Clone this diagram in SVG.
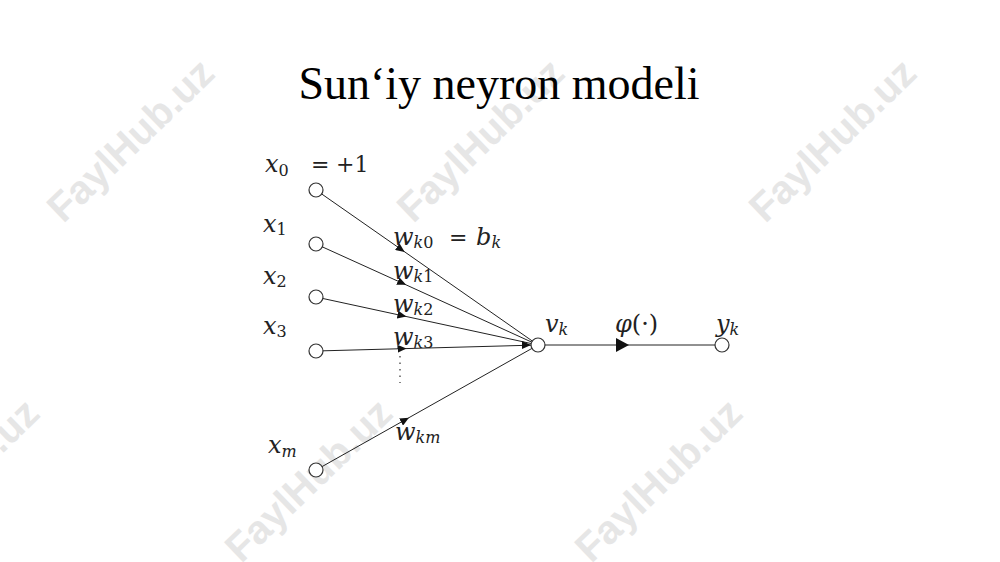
<svg xmlns="http://www.w3.org/2000/svg" width="1000" height="562" viewBox="0 0 1000 562">
<style>
.wm{font-family:"Liberation Sans",Arial,sans-serif;font-weight:bold;font-size:40px;fill:#e6e6e6;text-anchor:middle}
.title{font-family:"Liberation Serif","Times New Roman",serif;font-size:46px;fill:#000;text-anchor:middle}
.m{font-family:"DejaVu Serif",serif;font-style:italic;font-size:24px;fill:#222}
.s{font-size:16px}
.n{font-style:normal}
.node{fill:#fff;stroke:#333;stroke-width:1.2}
.edge{fill:none;stroke:#222;stroke-width:1}
</style>
<defs>
<marker id="w" viewBox="0 0 9 8" refX="4.5" refY="4" markerWidth="9" markerHeight="8" markerUnits="userSpaceOnUse" orient="auto">
<path d="M0,0 L9,4 L0,8 Z" fill="#111"/>
</marker>
<clipPath id="clipR"><rect x="0" y="0" width="741" height="562"/></clipPath>
</defs>
<rect width="1000" height="562" fill="#fff"/>
<g id="watermarks">
<text class="wm" transform="translate(140,150) rotate(-44)">FaylHub.uz</text>
<text class="wm" transform="translate(490,150) rotate(-44)">FaylHub.uz</text>
<text class="wm" transform="translate(842,150) rotate(-44)">FaylHub.uz</text>
<text class="wm" transform="translate(-35,490) rotate(-44)">FaylHub.uz</text>
<text class="wm" transform="translate(318,490) rotate(-44)">FaylHub.uz</text>
<text class="wm" transform="translate(668,490) rotate(-44)">FaylHub.uz</text>
</g>
<g id="title"><text class="title" x="499" y="99">Sun‘iy neyron modeli</text></g>
<g id="connectors">
<polyline class="edge" points="316,190 401,249.3 538,345" marker-mid="url(#w)"/>
<polyline class="edge" points="316,244 402,283 538,345" marker-mid="url(#w)"/>
<polyline class="edge" points="316,297 402,315.6 538,345" marker-mid="url(#w)"/>
<polyline class="edge" points="316,351 402,348.7 538,345" marker-mid="url(#w)"/>
<polyline class="edge" points="316,470 405,419.9 538,345" marker-mid="url(#w)"/>
<path d="M522,341 L531,345 L522,349 Z" fill="#111"/>
<line class="edge" x1="538" y1="345" x2="722" y2="345"/>
<path d="M616,338 L629,345 L616,352 Z" fill="#111"/>
<line x1="400" y1="356" x2="400" y2="383" stroke="#333" stroke-width="1.2" stroke-dasharray="1.5,5"/>
</g>
<g id="x0"><circle class="node" cx="316" cy="190" r="7"/>
<text class="m" x="265" y="172">x<tspan class="s n" dy="4">0</tspan><tspan class="n" x="311" dy="-4" font-size="22">=</tspan><tspan class="n" x="336" font-size="22">+1</tspan></text></g>
<g id="x1"><circle class="node" cx="316" cy="244" r="7"/>
<text class="m" x="263" y="232">x<tspan class="s n" dy="3">1</tspan></text></g>
<g id="x2"><circle class="node" cx="316" cy="297" r="7"/>
<text class="m" x="263" y="284">x<tspan class="s n" dy="3">2</tspan></text></g>
<g id="x3"><circle class="node" cx="316" cy="351" r="7"/>
<text class="m" x="263" y="334">x<tspan class="s n" dy="3">3</tspan></text></g>
<g id="xm"><circle class="node" cx="316" cy="470" r="7"/>
<text class="m" x="268" y="453">x<tspan class="s" dy="4">m</tspan></text></g>
<g id="weights">
<text class="m" x="393" y="245">w<tspan class="s" dy="3">k</tspan><tspan class="s n">0</tspan><tspan class="n" x="449" dy="-3" font-size="22">=</tspan><tspan x="476">b</tspan><tspan class="s" dy="3">k</tspan></text>
<text class="m" x="393" y="279">w<tspan class="s" dy="3">k</tspan><tspan class="s n">1</tspan></text>
<text class="m" x="393" y="312">w<tspan class="s" dy="3">k</tspan><tspan class="s n">2</tspan></text>
<text class="m" x="393" y="345">w<tspan class="s" dy="3">k</tspan><tspan class="s n">3</tspan></text>
<text class="m" x="395" y="440">w<tspan class="s" dy="3">km</tspan></text>
</g>
<g id="sum"><circle class="node" cx="538" cy="345" r="7"/>
<text class="m" x="545" y="332">v<tspan class="s" dy="3">k</tspan></text></g>
<g id="phi"><text class="m" x="615" y="332">φ<tspan class="n">(·)</tspan></text></g>
<g id="yk"><circle class="node" cx="722" cy="345" r="7"/>
<text class="m" x="716" y="332" clip-path="url(#clipR)">y<tspan class="s" dy="3">k</tspan></text></g>
</svg>
